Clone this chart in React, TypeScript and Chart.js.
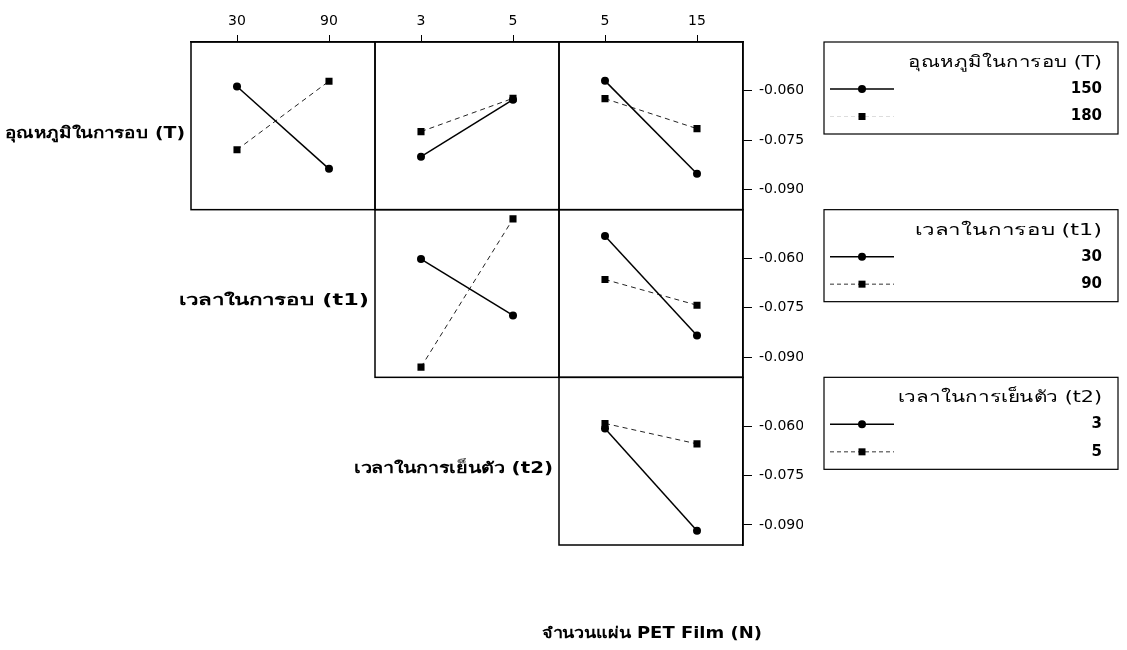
import React, { useEffect, useRef } from "react";
import { Chart, registerables } from "chart.js";

Chart.register(...registerables);

const FONT = "Tahoma, 'DejaVu Sans', 'Noto Sans', sans-serif";

// factor names
const rowLabels = ["อุณหภูมิในการอบ (T)", "เวลาในการอบ (t1)", "เวลาในการเย็นตัว (t2)"];
const legendTitles = ["อุณหภูมิในการอบ (T)", "เวลาในการอบ (t1)", "เวลาในการเย็นตัว (t2)"];
const xTitle = "จำนวนแผ่น PET Film (N)";

// levels
const tLevels = ["150", "180"];
const t1Levels = ["30", "90"];
const t2Levels = ["3", "5"];
const nLevels = ["5", "15"];
const colTickLabels = [t1Levels, t2Levels, nLevels];
const legendLevels = [tLevels, t1Levels, t2Levels];

// y axis ticks
const yTicks = [-0.09, -0.075, -0.06];
const yMin = -0.0961;
const yMax = -0.0452;

// mean responses (row factor = trace, column factor = x)
const T_t1_150 = [-0.0587, -0.0837];
const T_t1_180 = [-0.0779, -0.0571];
const T_t2_150 = [-0.08, -0.0627];
const T_t2_180 = [-0.0724, -0.0623];
const T_N_150 = [-0.057, -0.0852];
const T_N_180 = [-0.0624, -0.0715];
const t1_t2_30 = [-0.0602, -0.0773];
const t1_t2_90 = [-0.093, -0.048];
const t1_N_30 = [-0.0532, -0.0834];
const t1_N_90 = [-0.0664, -0.0742];
const t2_N_3 = [-0.0607, -0.0918];
const t2_N_5 = [-0.0592, -0.0654];

const panels = [
  { row: 0, col: 0, a: T_t1_150, b: T_t1_180 },
  { row: 0, col: 1, a: T_t2_150, b: T_t2_180 },
  { row: 0, col: 2, a: T_N_150, b: T_N_180 },
  { row: 1, col: 1, a: t1_t2_30, b: t1_t2_90 },
  { row: 1, col: 2, a: t1_N_30, b: t1_N_90 },
  { row: 2, col: 2, a: t2_N_3, b: t2_N_5 },
];

// text widths of the reference typeface
const rowLabelWidths = [180, 190, 199];
const legendTitleWidths = [194, 187, 204];
const xTitleWidth = 220;

function fitText(
  ctx: CanvasRenderingContext2D,
  text: string,
  x: number,
  y: number,
  width: number,
  align: "left" | "right" | "center"
) {
  const m = ctx.measureText(text).width;
  const sx = m > 0 ? width / m : 1;
  ctx.save();
  ctx.translate(x, y);
  ctx.scale(sx, 1);
  ctx.textAlign = align;
  ctx.fillText(text, 0, 0);
  ctx.restore();
}

const decor = {
  id: "decor",
  afterDraw(chart: any) {
    const ctx = chart.ctx as CanvasRenderingContext2D;
    const xs = ["x1", "x2", "x3"].map((id) => chart.scales[id]);
    const ys = ["y1", "y2", "y3"].map((id) => chart.scales[id]);
    ctx.save();
    ctx.strokeStyle = "#000";
    ctx.lineWidth = 1.5;
    for (let r = 0; r < 3; r++) {
      for (let c = r; c < 3; c++) {
        ctx.strokeRect(xs[c].left, ys[r].top, xs[c].right - xs[c].left, ys[r].bottom - ys[r].top);
      }
    }
    ctx.fillStyle = "#000";
    ctx.font = `bold 15px ${FONT}`;
    ctx.textBaseline = "middle";
    rowLabels.forEach((lab, r) => {
      fitText(ctx, lab, xs[r].left - 6, (ys[r].top + ys[r].bottom) / 2 + 8, rowLabelWidths[r], "right");
    });
    fitText(ctx, xTitle, 652, 634, xTitleWidth, "center");

    // legends
    const bx = 824;
    const bw = 294;
    const bh = 92;
    for (let r = 0; r < 3; r++) {
      const top = ys[r].top;
      ctx.lineWidth = 1.2;
      ctx.strokeStyle = "#000";
      ctx.strokeRect(bx, top, bw, bh);
      ctx.font = `16px ${FONT}`;
      fitText(ctx, legendTitles[r], 1102, top + 21, legendTitleWidths[r], "right");
      ctx.font = `bold 15px ${FONT}`;
      ctx.textAlign = "right";
      const y1 = top + 47;
      const y2 = top + 74.5;
      ctx.fillText(legendLevels[r][0], 1102, y1);
      ctx.fillText(legendLevels[r][1], 1102, y2);
      // solid entry
      ctx.beginPath();
      ctx.lineWidth = 1.5;
      ctx.setLineDash([]);
      ctx.moveTo(830, y1);
      ctx.lineTo(894, y1);
      ctx.stroke();
      ctx.beginPath();
      ctx.arc(862, y1, 4, 0, Math.PI * 2);
      ctx.fill();
      // dashed entry
      ctx.beginPath();
      ctx.lineWidth = 1;
      ctx.strokeStyle = r === 0 ? "#ddd" : "#333";
      ctx.setLineDash([4, 3]);
      ctx.moveTo(830, y2);
      ctx.lineTo(894, y2);
      ctx.stroke();
      ctx.setLineDash([]);
      ctx.fillRect(858.5, y2 - 3.5, 7, 7);
    }
    ctx.restore();
  },
};

export default function App() {
  const ref = useRef<HTMLCanvasElement | null>(null);
  useEffect(() => {
    if (!ref.current) return;
    const datasets: any[] = [];
    panels.forEach((p) => {
      const xId = "x" + (p.col + 1);
      const yId = "y" + (p.row + 1);
      datasets.push({
        data: p.a.map((v, i) => ({ x: i, y: v })),
        xAxisID: xId,
        yAxisID: yId,
        borderColor: "#000",
        backgroundColor: "#000",
        borderWidth: 1.5,
        pointStyle: "circle",
        pointRadius: 4,
        pointBorderWidth: 0,
        tension: 0,
      });
      datasets.push({
        data: p.b.map((v, i) => ({ x: i, y: v })),
        xAxisID: xId,
        yAxisID: yId,
        borderColor: "#222",
        backgroundColor: "#000",
        borderWidth: 1,
        borderDash: [5, 4],
        pointStyle: "rect",
        pointRadius: 5,
        pointBorderWidth: 0,
        tension: 0,
      });
    });

    const scales: any = {};
    // top axes: defined in reverse so x1 ends up leftmost
    [2, 1, 0].forEach((c) => {
      scales["x" + (c + 1)] = {
        type: "linear",
        position: "top",
        stack: "cols",
        stackWeight: 1,
        min: -0.5,
        max: 1.5,
        afterBuildTicks: (s: any) => {
          s.ticks = [{ value: 0 }, { value: 1 }];
        },
        afterFit: (s: any) => {
          s.height = 30;
        },
        ticks: {
          color: "#000",
          font: { family: FONT, size: 14 },
          padding: 5,
          maxRotation: 0,
          autoSkip: false,
          callback: (v: any) => colTickLabels[c][v] ?? "",
        },
        grid: { drawOnChartArea: false, drawTicks: true, tickLength: 7, color: "#000", lineWidth: 1 },
        border: { display: true, color: "#000", width: 1.5 },
      };
    });
    [0, 1, 2].forEach((r) => {
      scales["y" + (r + 1)] = {
        type: "linear",
        position: "right",
        stack: "rows",
        stackWeight: 1,
        min: yMin,
        max: yMax,
        afterBuildTicks: (s: any) => {
          s.ticks = yTicks.map((v) => ({ value: v }));
        },
        afterFit: (s: any) => {
          s.width = 60;
        },
        ticks: {
          color: "#000",
          font: { family: FONT, size: 14 },
          padding: 7,
          autoSkip: false,
          callback: (v: any) => Number(v).toFixed(3),
        },
        grid: { drawOnChartArea: false, drawTicks: true, tickLength: 9, color: "#000", lineWidth: 1 },
        border: { display: true, color: "#000", width: 1.5 },
      };
    });

    const chart = new Chart(ref.current, {
      type: "line",
      data: { datasets },
      options: {
        animation: false,
        responsive: false,
        maintainAspectRatio: false,
        layout: { padding: { left: 191, top: 12, right: 1127 - 743 - 60, bottom: 105 } },
        plugins: { legend: { display: false }, tooltip: { enabled: false } },
        scales,
      },
      plugins: [decor],
    });
    return () => chart.destroy();
  }, []);

  return (
    <div style={{ position: "fixed", left: 0, top: 0, width: 1127, height: 650, background: "#fff" }}>
      <canvas ref={ref} width={1127} height={650} style={{ display: "block" }} />
    </div>
  );
}
